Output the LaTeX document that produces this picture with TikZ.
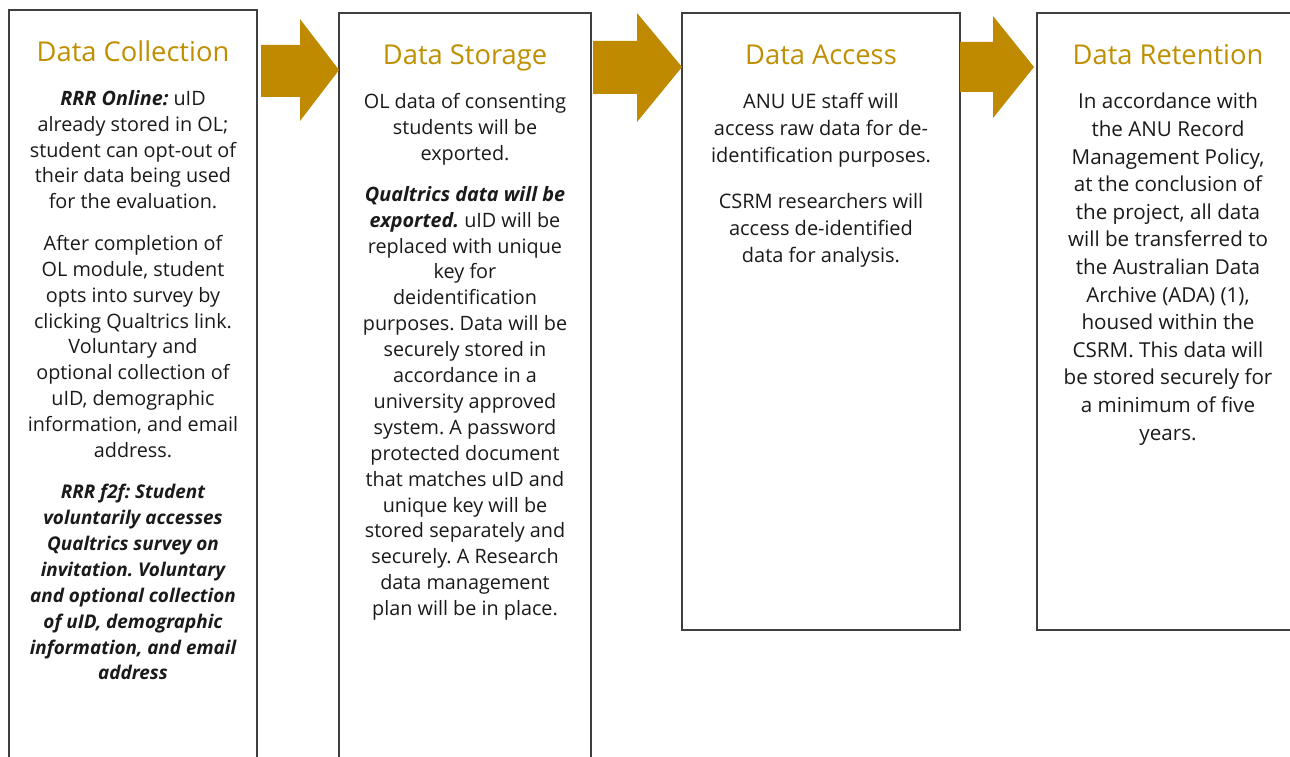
\documentclass[tikz,border=0pt]{standalone}
\usepackage{fontspec}
\setmainfont{Open Sans}
\frenchspacing
\definecolor{gold}{HTML}{BF8A00}
\definecolor{titlegold}{HTML}{BF8F00}
\definecolor{boxline}{HTML}{404040}
\definecolor{txt}{HTML}{1A1A1A}
\tikzset{
  stagebox/.style={draw=boxline, line width=1.4pt, fill=white},
  blockarrow/.style={fill=gold, draw=none},
  stagetitle/.style={anchor=base, inner sep=0pt, text=titlegold, font=\fontsize{27.3}{30}\selectfont},
  bodytxt/.style={anchor=north, inner sep=0pt, align=center, text=txt, font=\fontsize{19.8}{25.9}\selectfont},
  bodytxtb/.style={anchor=north, inner sep=0pt, align=center, text=txt, font=\fontsize{20}{27.2}\selectfont},
  bodytxtc/.style={anchor=north, inner sep=0pt, align=center, text=txt, font=\fontsize{20.6}{27.6}\selectfont},
}
\begin{document}
\begin{tikzpicture}[x=1pt, y=-1pt]
\useasboundingbox (0,0) rectangle (1290,757);
\clip (0,0) rectangle (1290,757);
\fill[white] (0,0) rectangle (1290,757);

% boxes
\draw[stagebox] (9,10) rectangle (257,775);
\draw[stagebox] (339,13) rectangle (591,775);
\draw[stagebox] (682,13) rectangle (960,630);
\draw[stagebox] (1037,13) rectangle (1300,630);

% block arrows
\fill[blockarrow] (261,45) -- (300,45) -- (300,19) -- (339,70) -- (300,121) -- (300,97) -- (261,97) -- cycle;
\fill[blockarrow] (593,41) -- (637,41) -- (637,13) -- (682,67) -- (637,122) -- (637,94) -- (593,94) -- cycle;
\fill[blockarrow] (960,42) -- (993,42) -- (993,16) -- (1034,67) -- (993,118) -- (993,92) -- (960,92) -- cycle;

% titles
\node[stagetitle] (t1) at (133,62) {Data Collection};
\node[stagetitle] (t2) at (465,65) {Data Storage};
\node[stagetitle] (t3) at (821,65) {Data Access};
\node[stagetitle] (t4) at (1168,65) {Data Retention};

% box 1
\node[bodytxt] (b1a) at (133,90) {\textbf{\textit{RRR Online:}} uID\\already stored in OL;\\student can opt-out of\\their data being used\\for the evaluation.};
\node[bodytxt] (b1b) at (133,235) {After completion of\\OL module, student\\opts into survey by\\clicking Qualtrics link.\\Voluntary and\\optional collection of\\uID, demographic\\information, and email\\address.};
\node[bodytxt, font=\fontsize{18.9}{25.9}\selectfont\bfseries\itshape] (b1c) at (133,484) {RRR f2f: Student\\voluntarily accesses\\Qualtrics survey on\\invitation. Voluntary\\and optional collection\\of uID, demographic\\information, and email\\address};

% box 2
\node[bodytxt] (b2a) at (465,93) {OL data of consenting\\students will be\\exported.};
\node[bodytxt] (b2b) at (465,186) {\textbf{\textit{Qualtrics data will be}}\\\textbf{\textit{exported.}} uID will be\\replaced with unique\\key for\\deidentification\\purposes. Data will be\\securely stored in\\accordance in a\\university approved\\system. A password\\protected document\\that matches uID and\\unique key will be\\stored separately and\\securely. A Research\\data management\\plan will be in place.};

% box 3
\node[bodytxtb] (b3a) at (821,93) {ANU UE staff will\\access raw data for de-\\identification purposes.};
\node[bodytxtb] (b3b) at (821,193) {CSRM researchers will\\access de-identified\\data for analysis.};

% box 4
\node[bodytxtc] (b4a) at (1168,93) {In accordance with\\the ANU Record\\Management Policy,\\at the conclusion of\\the project, all data\\will be transferred to\\the Australian Data\\Archive (ADA) (1),\\housed within the\\CSRM. This data will\\be stored securely for\\a minimum of five\\years.};
\end{tikzpicture}
\end{document}
